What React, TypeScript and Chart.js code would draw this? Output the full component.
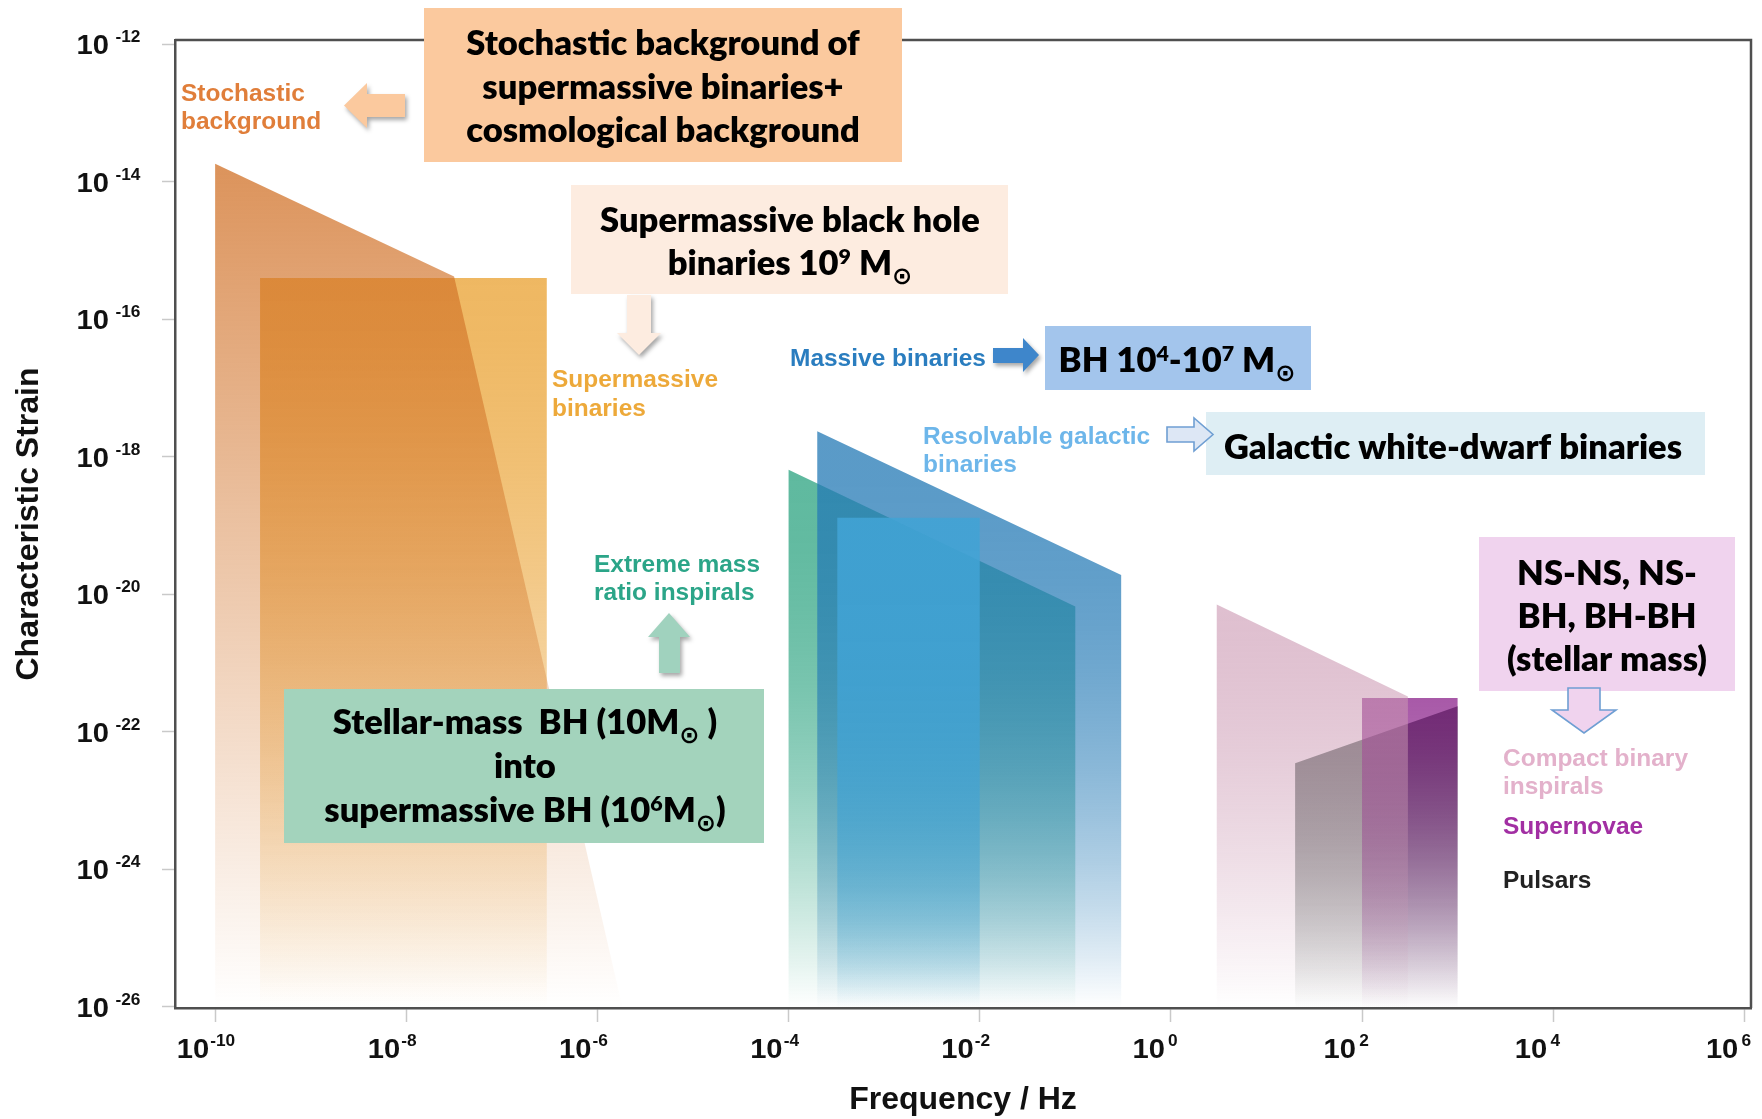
import { useEffect, useRef } from 'react';
import { Chart, registerables } from 'chart.js';

Chart.register(...registerables);

// ---------------- data (log10 values) ----------------
const X_TICK_EXPONENTS = [-10, -8, -6, -4, -2, 0, 2, 4, 6];
const Y_TICK_EXPONENTS = [-12, -14, -16, -18, -20, -22, -24, -26];
const X_AXIS_EXPONENT_RANGE = [-10.42, 6.07];
const Y_AXIS_EXPONENT_RANGE = [-26.02, -11.94];

// Source regions: polygon vertices as log10(frequency / Hz) and log10(characteristic strain)
const SUPERMASSIVE_LOG_F = [-9.53, -6.53, -6.53, -9.53];
const SUPERMASSIVE_LOG_H = [-15.4, -15.4, -26, -26];
const STOCHASTIC_LOG_F = [-10, -7.5, -5.74, -10];
const STOCHASTIC_LOG_H = [-13.74, -15.38, -26, -26];
const EMRI_LOG_F = [-4, -1, -1, -4];
const EMRI_LOG_H = [-18.19, -20.18, -26, -26];
const MASSIVE_LOG_F = [-3.7, -0.52, -0.52, -3.7];
const MASSIVE_LOG_H = [-17.63, -19.72, -26, -26];
const GALACTIC_LOG_F = [-3.49, -2, -2, -3.49];
const GALACTIC_LOG_H = [-18.89, -18.89, -26, -26];
const PULSAR_LOG_F = [1.3, 3, 3, 1.3];
const PULSAR_LOG_H = [-22.46, -21.63, -26, -26];
const SUPERNOVA_LOG_F = [2, 3, 3, 2];
const SUPERNOVA_LOG_H = [-21.51, -21.51, -26, -26];
const COMPACT_LOG_F = [0.48, 2.48, 2.48, 0.48];
const COMPACT_LOG_H = [-20.15, -21.49, -26, -26];

const AXIS_TITLE_X = 'Frequency / Hz';
const AXIS_TITLE_Y = 'Characteristic Strain';

// Box texts (^{..} superscript, _{..} subscript)
const BOX_STOCHASTIC_TEXT = ['Stochastic background of', 'supermassive binaries+', 'cosmological background'];
const BOX_SMBH_TEXT = ['Supermassive black hole', 'binaries 10^{9} M_{⊙}'];
const BOX_BH_TEXT = ['BH 10^{4}-10^{7} M_{⊙}'];
const BOX_GALACTIC_TEXT = ['Galactic white-dwarf binaries'];
const BOX_EMRI_TEXT = ['Stellar-mass  BH (10M_{⊙} )', 'into', 'supermassive BH (10^{6}M_{⊙})'];
const BOX_NS_TEXT = ['NS-NS, NS-', 'BH, BH-BH', '(stellar mass)'];

// Coloured source labels
const LABEL_STOCHASTIC = ['Stochastic', 'background'];
const LABEL_SUPERMASSIVE = ['Supermassive', 'binaries'];
const LABEL_MASSIVE = ['Massive binaries'];
const LABEL_RESOLVABLE = ['Resolvable galactic', 'binaries'];
const LABEL_EMRI = ['Extreme mass', 'ratio inspirals'];
const LABEL_COMPACT = ['Compact binary', 'inspirals'];
const LABEL_SUPERNOVAE = ['Supernovae'];
const LABEL_PULSARS = ['Pulsars'];

// ---------------- series (draw order: bottom to top) ----------------
const SERIES = [
  { label: 'Supermassive binaries', f: SUPERMASSIVE_LOG_F, h: SUPERMASSIVE_LOG_H },
  { label: 'Stochastic background', f: STOCHASTIC_LOG_F, h: STOCHASTIC_LOG_H },
  { label: 'Extreme mass ratio inspirals', f: EMRI_LOG_F, h: EMRI_LOG_H },
  { label: 'Massive binaries', f: MASSIVE_LOG_F, h: MASSIVE_LOG_H },
  { label: 'Resolvable galactic binaries', f: GALACTIC_LOG_F, h: GALACTIC_LOG_H },
  { label: 'Pulsars', f: PULSAR_LOG_F, h: PULSAR_LOG_H },
  { label: 'Supernovae', f: SUPERNOVA_LOG_F, h: SUPERNOVA_LOG_H },
  { label: 'Compact binary inspirals', f: COMPACT_LOG_F, h: COMPACT_LOG_H },
];

// styles: rgb, alpha at the top of the region, fade exponent
const SERIES_STYLE: Record<string, { rgb: string; a: number; p: number }> = {
  'Supermassive binaries': { rgb: '238,180,90', a: 0.95, p: 1.6 },
  'Stochastic background': { rgb: '208,111,36', a: 0.75, p: 1.0 },
  'Extreme mass ratio inspirals': { rgb: '55,168,135', a: 0.8, p: 2.0 },
  'Massive binaries': { rgb: '35,121,181', a: 0.75, p: 2.3 },
  'Resolvable galactic binaries': { rgb: '65,163,213', a: 0.88, p: 2.6 },
  Pulsars: { rgb: '95,112,105', a: 0.95, p: 1.3 },
  Supernovae: { rgb: '121,0,121', a: 0.65, p: 1.3 },
  'Compact binary inspirals': { rgb: '203,152,178', a: 0.62, p: 1.6 },
};

const AXIS_FONT = '"Liberation Sans", Arial, Helvetica, sans-serif';
const BOX_FONT = 'Lato, "DejaVu Sans", sans-serif';

// ---------------- annotation layout (pixels) ----------------
const BOXES = [
  { lines: BOX_STOCHASTIC_TEXT, x: 424, y: 8, w: 478, h: 154, fill: '#FBC99E', cx: 663, base: [55, 98.5, 142] },
  { lines: BOX_SMBH_TEXT, x: 571, y: 185, w: 437, h: 109, fill: '#FDECE0', cx: 790, base: [232, 275] },
  { lines: BOX_BH_TEXT, x: 1045, y: 326, w: 266, h: 64, fill: '#A3C5EC', cx: 1177, base: [372] },
  { lines: BOX_GALACTIC_TEXT, x: 1206, y: 412, w: 499, h: 63, fill: '#DEEEF4', cx: 1453, base: [459] },
  { lines: BOX_EMRI_TEXT, x: 284, y: 689, w: 480, h: 154, fill: '#A3D3BC', cx: 525, base: [734, 778, 822] },
  { lines: BOX_NS_TEXT, x: 1479, y: 537, w: 256, h: 154, fill: '#F0D3EE', cx: 1607, base: [585, 628, 671] },
];

const LABELS = [
  { lines: LABEL_STOCHASTIC, x: 181, base: [101, 129], color: '#E07E3A' },
  { lines: LABEL_SUPERMASSIVE, x: 552, base: [387, 415.5], color: '#EDA93A' },
  { lines: LABEL_MASSIVE, x: 790, base: [365.5], color: '#2A7DBF' },
  { lines: LABEL_RESOLVABLE, x: 923, base: [443.5, 471.5], color: '#6DB6EA' },
  { lines: LABEL_EMRI, x: 594, base: [571.5, 600], color: '#2BA588' },
  { lines: LABEL_COMPACT, x: 1503, base: [766, 794], color: '#E3B1CB' },
  { lines: LABEL_SUPERNOVAE, x: 1503, base: [834], color: '#A22FA3' },
  { lines: LABEL_PULSARS, x: 1503, base: [888], color: '#222222' },
];

const ARROWS = [
  { pts: [[344, 105.5], [367, 83], [367, 94], [405, 94], [405, 117], [367, 117], [367, 128]], fill: '#FBC99E', stroke: '', shadow: true },
  { pts: [[627, 295], [651, 295], [651, 333], [661, 333], [639, 355], [617, 333], [627, 333]], fill: '#FDECE0', stroke: '', shadow: true },
  { pts: [[993, 348], [1023, 348], [1023, 338], [1039, 355], [1023, 372], [1023, 363], [993, 363]], fill: '#3E86CB', stroke: '', shadow: true },
  { pts: [[1167, 427], [1194, 427], [1194, 418], [1213, 434.5], [1194, 451], [1194, 442], [1167, 442]], fill: '#DDE7F5', stroke: '#6F9FD3', shadow: false },
  { pts: [[669, 613], [690, 637], [680, 637], [680, 673], [659, 673], [659, 637], [648, 637]], fill: '#A0D2BE', stroke: '', shadow: true },
  { pts: [[1568, 688], [1600, 688], [1600, 710], [1616, 710], [1584, 733], [1552, 710], [1568, 710]], fill: '#F0D3EE', stroke: '#6F9FD3', shadow: false },
];

// ---------------- helpers ----------------
type Seg = { t: string; k: 'n' | 'sup' | 'sub' };
function parseRich(s: string): Seg[] {
  const out: Seg[] = [];
  const re = /\^\{([^}]*)\}|_\{([^}]*)\}/g;
  let last = 0;
  let m: RegExpExecArray | null;
  while ((m = re.exec(s))) {
    if (m.index > last) out.push({ t: s.slice(last, m.index), k: 'n' });
    if (m[1] !== undefined) out.push({ t: m[1], k: 'sup' });
    else out.push({ t: m[2], k: 'sub' });
    last = re.lastIndex;
  }
  if (last < s.length) out.push({ t: s.slice(last), k: 'n' });
  return out;
}

function drawRich(
  ctx: CanvasRenderingContext2D,
  s: string,
  x: number,
  y: number,
  o: { size: number; family: string; color: string; align: 'left' | 'center' | 'right'; stretch: number; weight?: string }
) {
  const segs = parseRich(s);
  const sz = (k: string) => (k === 'n' ? o.size : k === 'sup' ? o.size * 0.62 : o.size * 0.7);
  const font = (k: string) => `${o.weight || 'bold'} ${sz(k)}px ${o.family}`;
  let total = 0;
  const ws = segs.map((sg) => {
    ctx.font = font(sg.k);
    const w = ctx.measureText(sg.t).width;
    total += w;
    return w;
  });
  ctx.save();
  ctx.translate(x, y);
  ctx.scale(o.stretch, 1);
  let cx = o.align === 'left' ? 0 : o.align === 'right' ? -total : -total / 2;
  ctx.fillStyle = o.color;
  ctx.textAlign = 'left';
  ctx.textBaseline = 'alphabetic';
  segs.forEach((sg, i) => {
    ctx.font = font(sg.k);
    const dy = sg.k === 'sup' ? -o.size * 0.32 : sg.k === 'sub' ? o.size * 0.25 : 0;
    ctx.fillText(sg.t, cx, dy);
    cx += ws[i];
  });
  ctx.restore();
}

function fadeGradient(chart: any, topExp: number, st: { rgb: string; a: number; p: number }) {
  const { ctx, chartArea, scales } = chart;
  if (!chartArea || !scales.y) return `rgba(${st.rgb},${st.a})`;
  const top = scales.y.getPixelForValue(Math.pow(10, topExp));
  const bottom = chartArea.bottom;
  const g = ctx.createLinearGradient(0, top, 0, bottom);
  for (let i = 0; i <= 12; i++) {
    const t = i / 12;
    const a = Math.max(0, st.a * (1 - Math.pow(t, st.p)));
    g.addColorStop(t, `rgba(${st.rgb},${a.toFixed(3)})`);
  }
  return g;
}

function drawPower(ctx: CanvasRenderingContext2D, xRight: number, base: number, exp: number, gap: number) {
  ctx.save();
  ctx.fillStyle = '#111';
  ctx.textBaseline = 'alphabetic';
  ctx.translate(xRight, base);
  ctx.scale(1.08, 1);
  ctx.font = `bold 27px ${AXIS_FONT}`;
  ctx.textAlign = 'right';
  ctx.fillText('10', 0, 0);
  ctx.font = `bold 16px ${AXIS_FONT}`;
  ctx.textAlign = 'left';
  ctx.fillText(String(exp), gap, -12);
  ctx.restore();
}

const decorPlugin = {
  id: 'gwDecor',
  afterDatasetsDraw(chart: any) {
    const { ctx, chartArea: a } = chart;
    ctx.save();
    ctx.strokeStyle = '#4f4f4f';
    ctx.lineWidth = 2.5;
    ctx.beginPath();
    ctx.moveTo(a.left, a.top);
    ctx.lineTo(a.right, a.top);
    ctx.lineTo(a.right, a.bottom);
    ctx.stroke();
    ctx.restore();
  },
  afterDraw(chart: any) {
    const { ctx } = chart;
    const xs = chart.scales.x;
    const ys = chart.scales.y;
    // tick labels
    X_TICK_EXPONENTS.forEach((e) => {
      const px = xs.getPixelForValue(Math.pow(10, e));
      drawPower(ctx, px - 6, 1058, e, e >= 0 ? 3 : 1);
    });
    Y_TICK_EXPONENTS.forEach((e) => {
      const py = ys.getPixelForValue(Math.pow(10, e));
      drawPower(ctx, 109, py + 10, e, 6);
    });
    // boxes
    BOXES.forEach((b) => {
      ctx.save();
      ctx.fillStyle = b.fill;
      ctx.fillRect(b.x, b.y, b.w, b.h);
      ctx.restore();
      b.lines.forEach((ln, i) =>
        drawRich(ctx, ln, b.cx, b.base[i], { size: 34.5, family: BOX_FONT, color: '#000', align: 'center', stretch: 1, weight: '800' })
      );
    });
    // arrows
    ARROWS.forEach((ar) => {
      ctx.save();
      if (ar.shadow) {
        ctx.shadowColor = 'rgba(0,0,0,0.35)';
        ctx.shadowBlur = 4;
        ctx.shadowOffsetX = 2;
        ctx.shadowOffsetY = 3;
      }
      ctx.beginPath();
      ar.pts.forEach(([x, y], i) => (i ? ctx.lineTo(x, y) : ctx.moveTo(x, y)));
      ctx.closePath();
      ctx.fillStyle = ar.fill;
      ctx.fill();
      ctx.shadowColor = 'rgba(0,0,0,0)';
      if (ar.stroke) {
        ctx.strokeStyle = ar.stroke;
        ctx.lineWidth = 1.6;
        ctx.stroke();
      }
      ctx.restore();
    });
    // coloured labels
    LABELS.forEach((l) =>
      l.lines.forEach((ln, i) =>
        drawRich(ctx, ln, l.x, l.base[i], { size: 24, family: AXIS_FONT, color: l.color, align: 'left', stretch: 1.02 })
      )
    );
  },
};

export default function App() {
  const ref = useRef<HTMLCanvasElement>(null);
  useEffect(() => {
    const canvas = ref.current;
    if (!canvas) return;
    const datasets = SERIES.map((s, i) => {
      const st = SERIES_STYLE[s.label];
      const topExp = Math.max(...s.h);
      return {
        label: s.label,
        data: s.f.map((f, j) => ({ x: Math.pow(10, f), y: Math.pow(10, s.h[j]) })),
        showLine: true,
        fill: 'shape',
        borderWidth: 0,
        borderColor: 'rgba(0,0,0,0)',
        pointRadius: 0,
        pointHoverRadius: 0,
        backgroundColor: (c: any) => fadeGradient(c.chart, topExp, st),
        order: SERIES.length - i,
      };
    });
    const chart = new Chart(canvas, {
      type: 'scatter',
      data: { datasets } as any,
      options: {
        animation: false,
        responsive: false,
        devicePixelRatio: 1,
        events: [],
        layout: { padding: { left: 0, top: 40, right: 11, bottom: 0 } },
        plugins: { legend: { display: false }, tooltip: { enabled: false } },
        scales: {
          x: {
            type: 'logarithmic',
            position: 'bottom',
            bounds: 'data',
            min: Math.pow(10, X_AXIS_EXPONENT_RANGE[0]),
            max: Math.pow(10, X_AXIS_EXPONENT_RANGE[1]),
            afterBuildTicks: (sc: any) => {
              sc.ticks = X_TICK_EXPONENTS.map((e) => ({ value: Math.pow(10, e) }));
            },
            afterFit: (sc: any) => {
              sc.height = 111;
            },
            ticks: { display: false },
            grid: { display: true, drawOnChartArea: false, drawTicks: true, tickLength: 14, color: '#c9c9c9', tickColor: '#c9c9c9', tickWidth: 1.5 },
            border: { display: true, color: '#4f4f4f', width: 2.5 },
            title: { display: true, text: AXIS_TITLE_X, color: '#111', font: { family: AXIS_FONT, size: 32, weight: 'bold' }, padding: { top: 0, bottom: 0 } },
          },
          y: {
            type: 'logarithmic',
            position: 'left',
            bounds: 'data',
            min: Math.pow(10, Y_AXIS_EXPONENT_RANGE[0]),
            max: Math.pow(10, Y_AXIS_EXPONENT_RANGE[1]),
            afterBuildTicks: (sc: any) => {
              sc.ticks = Y_TICK_EXPONENTS.map((e) => ({ value: Math.pow(10, e) }));
            },
            afterFit: (sc: any) => {
              sc.width = 175;
            },
            ticks: { display: false },
            grid: { display: true, drawOnChartArea: false, drawTicks: true, tickLength: 13, color: '#c9c9c9', tickColor: '#c9c9c9', tickWidth: 1.5 },
            border: { display: true, color: '#4f4f4f', width: 2.5 },
            title: { display: true, text: AXIS_TITLE_Y, color: '#111', font: { family: AXIS_FONT, size: 32, weight: 'bold' }, padding: { top: 10, bottom: 0 } },
          },
        },
      } as any,
      plugins: [decorPlugin],
    });
    return () => chart.destroy();
  }, []);
  return (
    <div style={{ position: 'absolute', left: 0, top: 0, width: 1762, height: 1119, background: '#fff' }}>
      <canvas ref={ref} width={1762} height={1119} style={{ display: 'block', width: 1762, height: 1119 }} />
    </div>
  );
}
